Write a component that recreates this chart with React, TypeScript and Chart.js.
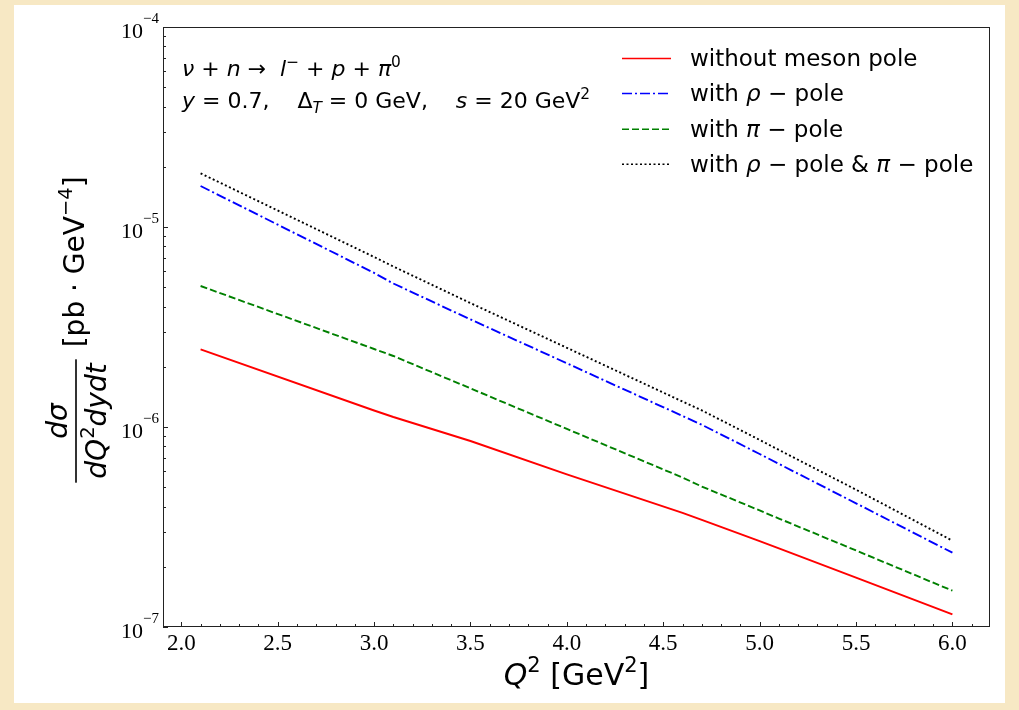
import React, { useEffect, useRef } from "react";
import { Chart, registerables } from "chart.js";

Chart.register(...registerables);

// ---- data ----
const q2 = [2.1, 3.0, 3.1, 3.5, 4.0, 4.6, 4.7, 5.0, 5.1, 5.5, 6.0];
const withoutPole = [2.446e-6, 1.209e-6, 1.122e-6, 8.51e-7, 5.79e-7, 3.72e-7, 3.43e-7, 2.69e-7, 2.47e-7, 1.766e-7, 1.157e-7];
const withRho = [1.603e-5, 5.895e-6, 5.217e-6, 3.45e-6, 2.082e-6, 1.135e-6, 1.026e-6, 7.33e-7, 6.54e-7, 4.154e-7, 2.352e-7];
const withPi = [5.07e-6, 2.455e-6, 2.265e-6, 1.56e-6, 9.78e-7, 5.59e-7, 5.04e-7, 3.825e-7, 3.487e-7, 2.413e-7, 1.519e-7];
const withBoth = [1.855e-5, 7.08e-6, 6.345e-6, 4.164e-6, 2.489e-6, 1.341e-6, 1.211e-6, 8.62e-7, 7.68e-7, 4.859e-7, 2.701e-7];

const xTicks = [2.0, 2.5, 3.0, 3.5, 4.0, 4.5, 5.0, 5.5, 6.0];
const yTicks = [1e-7, 1e-6, 1e-5, 1e-4];
const yTickExponents = ["−7", "−6", "−5", "−4"];

const seriesNames = ["without meson pole", "with ρ − pole", "with π − pole", "with ρ − pole & π − pole"];
const seriesColors = ["#ff0000", "#0000ff", "#008000", "#000000"];
const seriesDashes: number[][] = [[], [10, 3, 2, 3], [7, 3], [2, 2.5]];

const SANS = "'DejaVu Sans'";
const SERIF = "'Liberation Serif'";

type Run = { t: string; it?: boolean; sup?: boolean; sub?: boolean };

function runsWidth(ctx: CanvasRenderingContext2D, runs: Run[], size: number, family: string) {
  let w = 0;
  for (const r of runs) {
    const s = r.sup || r.sub ? size * 0.7 : size;
    ctx.font = `${r.it ? "italic " : ""}${s}px ${family}`;
    w += ctx.measureText(r.t).width;
  }
  return w;
}

function drawRuns(ctx: CanvasRenderingContext2D, runs: Run[], x: number, y: number, size: number, family: string) {
  let cx = x;
  ctx.textBaseline = "alphabetic";
  ctx.textAlign = "left";
  for (const r of runs) {
    const s = r.sup || r.sub ? size * 0.7 : size;
    ctx.font = `${r.it ? "italic " : ""}${s}px ${family}`;
    const dy = r.sup ? -size * 0.42 : r.sub ? size * 0.22 : 0;
    ctx.fillText(r.t, cx, y + dy);
    cx += ctx.measureText(r.t).width;
  }
  return cx - x;
}

const legendRuns: Run[][] = [
  [{ t: "without meson pole" }],
  [{ t: "with " }, { t: "ρ", it: true }, { t: " − pole" }],
  [{ t: "with " }, { t: "π", it: true }, { t: " − pole" }],
  [{ t: "with " }, { t: "ρ", it: true }, { t: " − pole & " }, { t: "π", it: true }, { t: " − pole" }],
];

const annotationLine1: Run[] = [
  { t: "ν", it: true }, { t: " + " }, { t: "n", it: true }, { t: " →  " }, { t: "l", it: true },
  { t: "−", sup: true }, { t: " + " }, { t: "p", it: true }, { t: " + " }, { t: "π", it: true }, { t: "0", sup: true },
];
const annotationLine2: Run[] = [
  { t: "y", it: true }, { t: " = 0.7,    Δ" }, { t: "T", it: true, sub: true }, { t: " = 0 GeV,    " },
  { t: "s", it: true }, { t: " = 20 GeV" }, { t: "2", sup: true },
];

const xTitle: Run[] = [{ t: "Q", it: true }, { t: "2", sup: true }, { t: " [GeV" }, { t: "2", sup: true }, { t: "]" }];
const yNumerator: Run[] = [{ t: "dσ", it: true }];
const yDenominator: Run[] = [{ t: "dQ", it: true }, { t: "2", sup: true }, { t: "dydt", it: true }];
const yUnits: Run[] = [{ t: "[pb · GeV" }, { t: "−4", sup: true }, { t: "]" }];

const decorPlugin = {
  id: "decor",
  afterDraw(chart: any) {
    const ctx: CanvasRenderingContext2D = chart.ctx;
    const a = chart.chartArea;
    const xs = chart.scales.x;
    const ys = chart.scales.y;
    ctx.save();

    // frame
    ctx.strokeStyle = "#222";
    ctx.lineWidth = 1;
    ctx.strokeRect(a.left + 0.5, a.top + 0.5, a.right - a.left - 1, a.bottom - a.top - 1);

    // inward ticks
    ctx.beginPath();
    for (let k = 19; k <= 62; k++) {
      const v = k / 10;
      if (v < xs.min || v > xs.max) continue;
      const px = Math.round(xs.getPixelForValue(v)) + 0.5;
      const len = k % 5 === 0 ? 5 : 3;
      ctx.moveTo(px, a.bottom);
      ctx.lineTo(px, a.bottom - len);
    }
    for (let e = -7; e <= -4; e++) {
      for (let k = 1; k <= 9; k++) {
        const v = k * Math.pow(10, e);
        if (v < ys.min * 0.999 || v > ys.max * 1.001) continue;
        const py = Math.round(ys.getPixelForValue(v)) + 0.5;
        const len = k === 1 ? 5 : 3;
        ctx.moveTo(a.left, py);
        ctx.lineTo(a.left + len, py);
      }
    }
    ctx.stroke();

    // y tick labels 10^n
    ctx.fillStyle = "#000";
    yTicks.forEach((v, i) => {
      const py = ys.getPixelForValue(v);
      const right = a.left - 4;
      ctx.font = `15px ${SERIF}`;
      const ew = ctx.measureText(yTickExponents[i]).width;
      ctx.textAlign = "left";
      ctx.textBaseline = "alphabetic";
      ctx.fillText(yTickExponents[i], right - ew, py - 4);
      ctx.font = `22px ${SERIF}`;
      const bw = ctx.measureText("10").width;
      ctx.fillText("10", right - ew - bw, py + 11);
    });

    // annotation
    ctx.fillStyle = "#000";
    drawRuns(ctx, annotationLine1, a.left + 19, 76, 22, SANS);
    drawRuns(ctx, annotationLine2, a.left + 19, 108, 22, SANS);

    // legend
    const baselines = [66, 101, 136.7, 171.7];
    seriesNames.forEach((_, i) => {
      ctx.save();
      ctx.strokeStyle = seriesColors[i];
      ctx.lineWidth = 1.6;
      ctx.setLineDash(seriesDashes[i]);
      ctx.beginPath();
      ctx.moveTo(622, baselines[i] - 7.5);
      ctx.lineTo(671, baselines[i] - 7.5);
      ctx.stroke();
      ctx.restore();
      ctx.fillStyle = "#000";
      drawRuns(ctx, legendRuns[i], 690, baselines[i], 23, SANS);
    });

    // x title
    const xtw = runsWidth(ctx, xTitle, 30, SANS);
    drawRuns(ctx, xTitle, (a.left + a.right) / 2 - xtw / 2, 685, 30, SANS);

    // y title (rotated)
    ctx.save();
    ctx.translate(76, 421);
    ctx.rotate(-Math.PI / 2);
    const nw = runsWidth(ctx, yNumerator, 28, SANS);
    drawRuns(ctx, yNumerator, -nw / 2, -9, 28, SANS);
    const dw = runsWidth(ctx, yDenominator, 28, SANS);
    drawRuns(ctx, yDenominator, -dw / 2, 30, 28, SANS);
    ctx.fillRect(-dw / 2 - 4, -0.8, dw + 8, 1.6);
    drawRuns(ctx, yUnits, dw / 2 + 16, 8, 28, SANS);
    ctx.restore();

    ctx.restore();
  },
};

export default function App() {
  const ref = useRef<HTMLCanvasElement | null>(null);

  useEffect(() => {
    if (!ref.current) return;
    const all = [withoutPole, withRho, withPi, withBoth];
    const chart = new Chart(ref.current, {
      type: "line",
      data: {
        datasets: all.map((arr, i) => ({
          label: seriesNames[i],
          data: q2.map((x, j) => ({ x, y: arr[j] })),
          borderColor: seriesColors[i],
          borderDash: seriesDashes[i],
          borderWidth: 1.9,
          pointRadius: 0,
          tension: 0,
          fill: false,
        })),
      },
      options: {
        animation: false,
        responsive: false,
        events: [],
        layout: { padding: { top: 27, right: 29, left: 0, bottom: 0 } },
        plugins: { legend: { display: false }, tooltip: { enabled: false } },
        scales: {
          x: {
            type: "linear",
            min: 1.905,
            max: 6.195,
            afterBuildTicks: (s: any) => {
              s.ticks = xTicks.map((v) => ({ value: v }));
            },
            afterFit: (s: any) => {
              s.height = 83;
            },
            grid: { display: false, drawTicks: false },
            border: { display: false },
            ticks: {
              color: "#000",
              font: { family: "Liberation Serif", size: 23 },
              padding: 3,
              maxRotation: 0,
              autoSkip: false,
              callback: (v: any) => Number(v).toFixed(1),
            },
          },
          y: {
            type: "logarithmic",
            min: 1e-7,
            max: 1e-4,
            afterBuildTicks: (s: any) => {
              s.ticks = yTicks.map((v) => ({ value: v }));
            },
            afterFit: (s: any) => {
              s.width = 163;
            },
            grid: { display: false, drawTicks: false },
            border: { display: false },
            ticks: { display: false },
          },
        },
      },
      plugins: [decorPlugin],
    });
    return () => chart.destroy();
  }, []);

  return (
    <div style={{ position: "fixed", left: 0, top: 0, width: 1019, height: 710, background: "#f7e8c4", overflow: "hidden" }}>
      <div style={{ position: "absolute", left: 14, top: 5, width: 991, height: 698, background: "#ffffff" }} />
      <canvas ref={ref} width={1019} height={710} style={{ position: "absolute", left: 0, top: 0, width: 1019, height: 710 }} />
    </div>
  );
}
